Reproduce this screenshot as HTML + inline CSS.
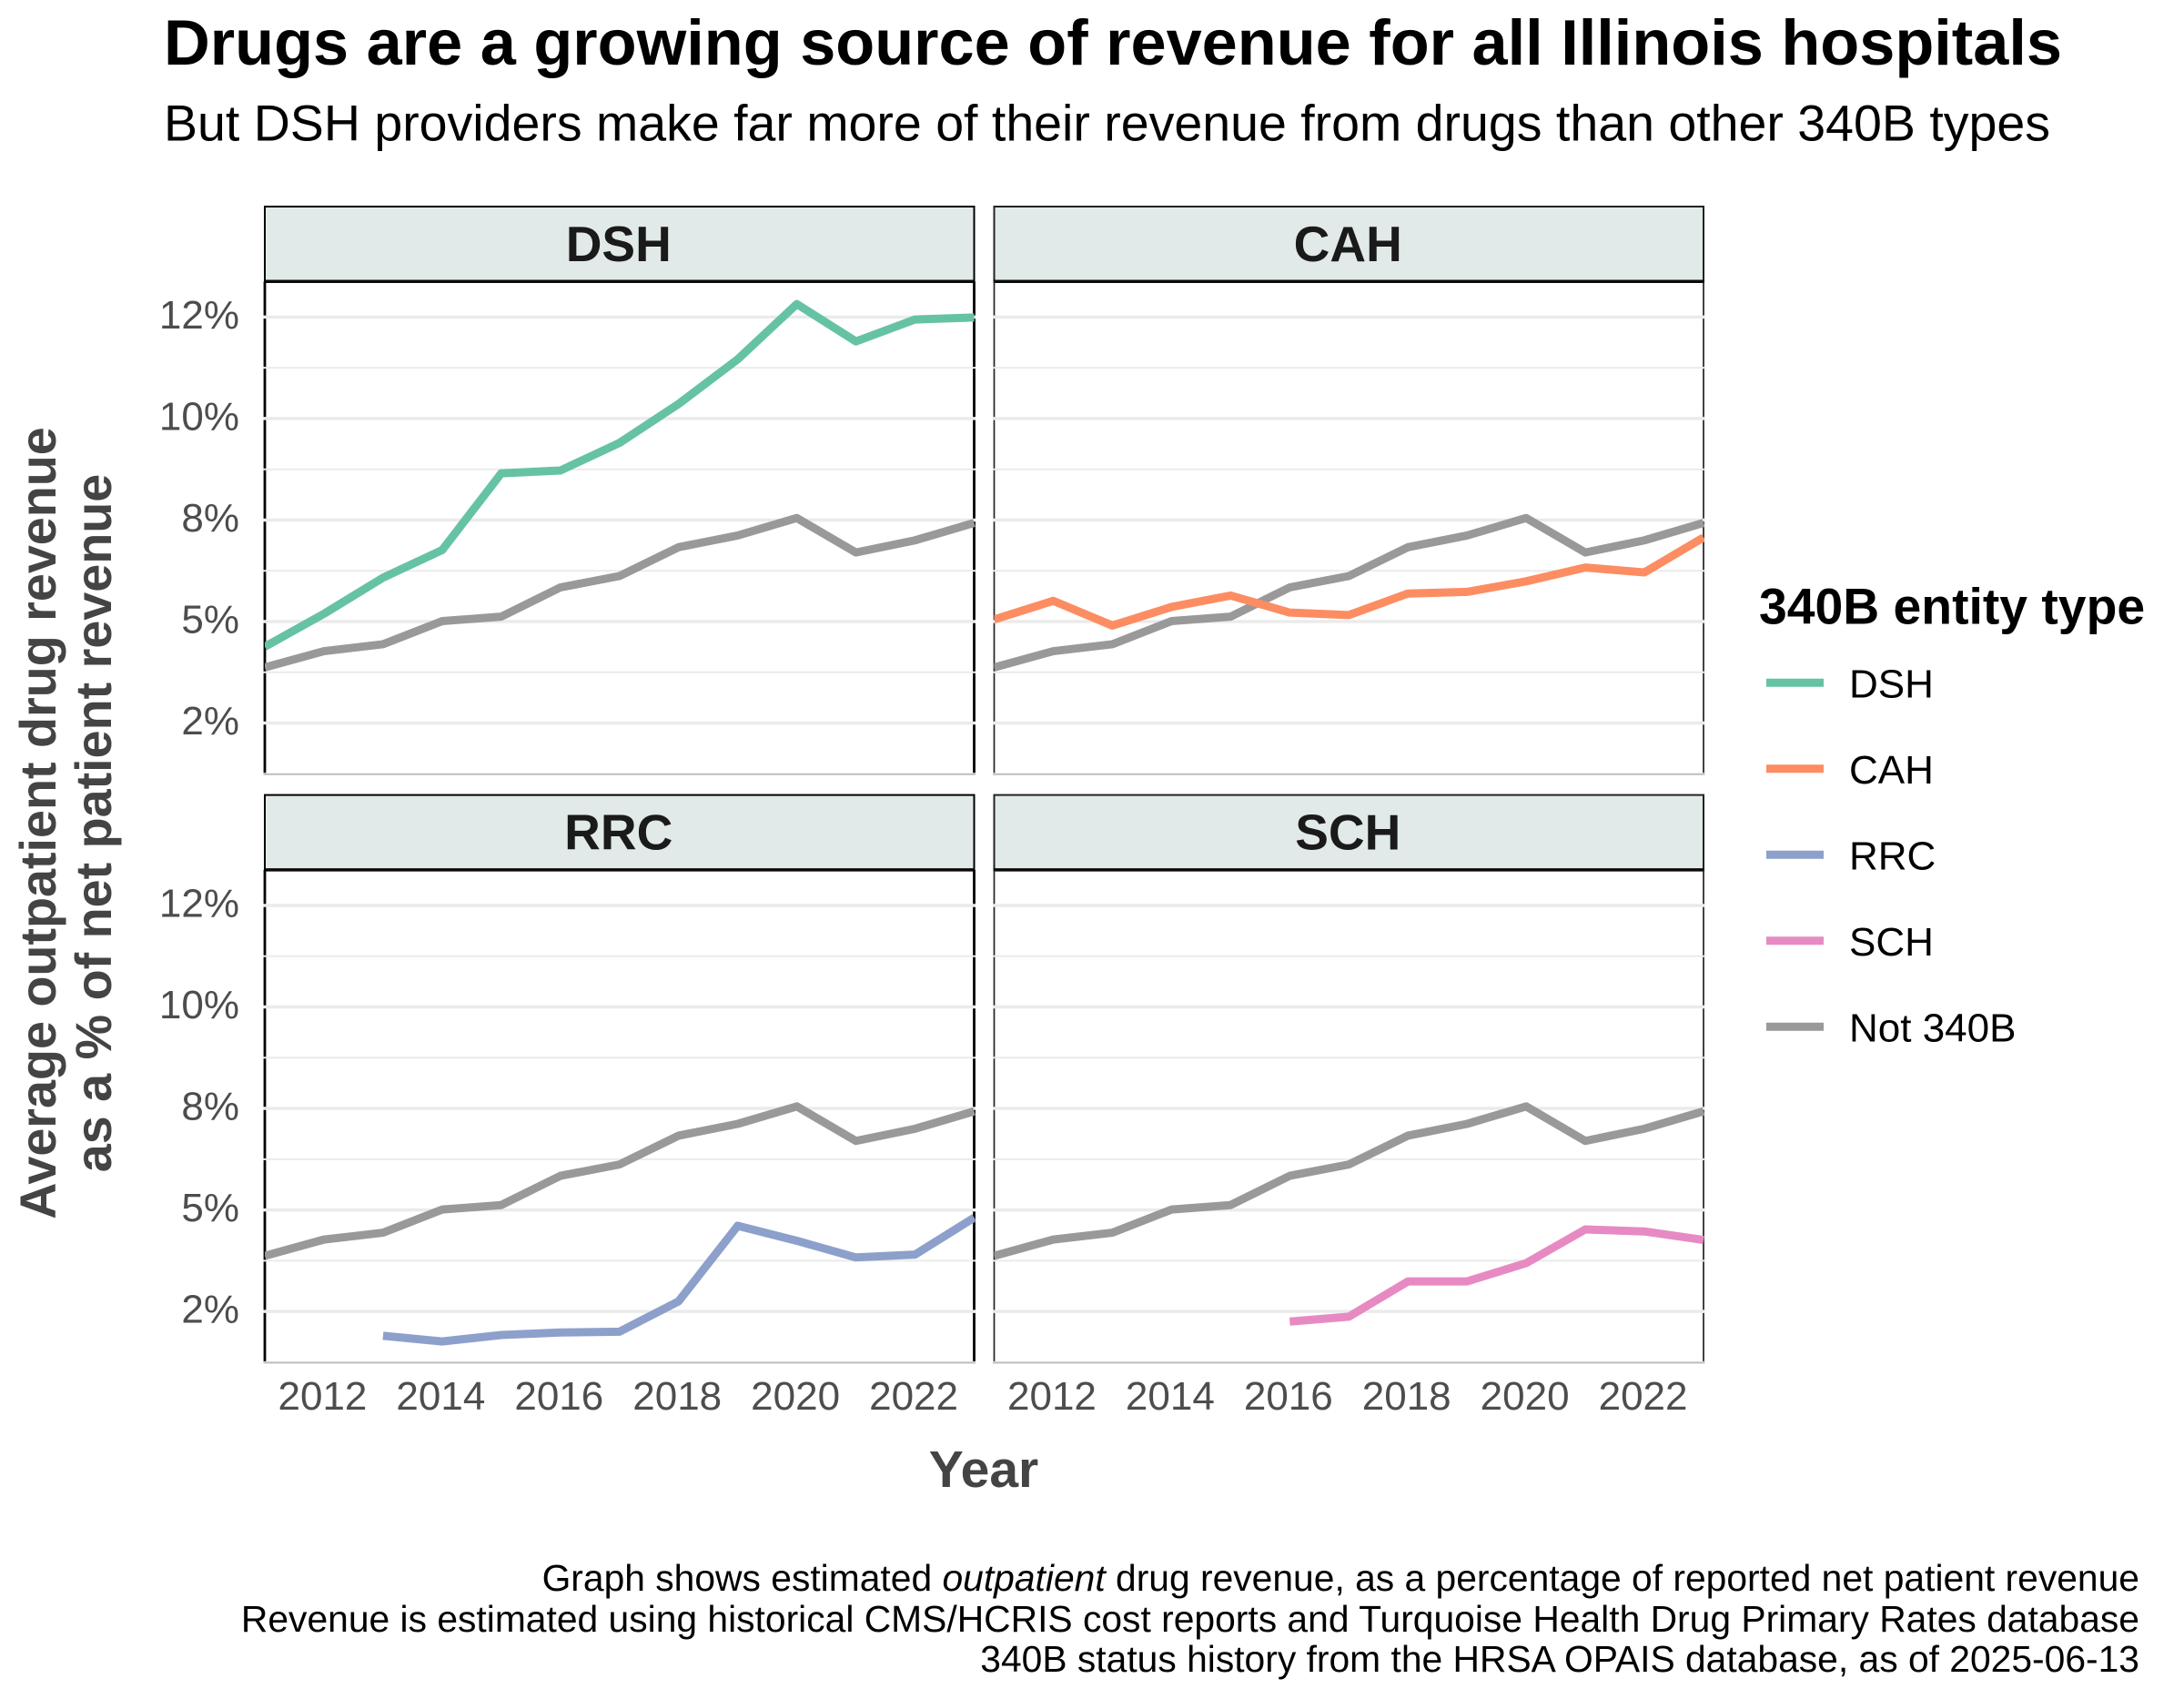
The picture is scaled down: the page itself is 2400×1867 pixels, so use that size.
<!DOCTYPE html>
<html lang="en">
<head>
<meta charset="utf-8">
<title>Drugs are a growing source of revenue for all Illinois hospitals</title>
<style>
html,body{margin:0;padding:0;background:#fff;}
svg{display:block;font-family:"Liberation Sans",Arial,sans-serif;}
</style>
</head>
<body>
<svg id="chart" xmlns="http://www.w3.org/2000/svg" width="2400" height="1867" viewBox="0 0 2400 1867">
  <rect x="0" y="0" width="2400" height="1867" fill="#fff"/>
  <text x="180" y="71" font-size="70.3" font-weight="700" fill="#000">Drugs are a growing source of revenue for all Illinois hospitals</text>
  <text x="180" y="154.5" font-size="55.5" fill="#000">But DSH providers make far more of their revenue from drugs than other 340B types</text>
  <g transform="translate(0,904.5) rotate(-90)" font-size="55.7" font-weight="700" fill="#444" text-anchor="middle">
    <text x="0" y="61">Average outpatient drug revenue</text>
    <text x="0" y="122">as a % of net patient revenue</text>
  </g>
  <text x="1081" y="1634" font-size="57" font-weight="700" fill="#444" text-anchor="middle">Year</text>
  <g id="panels"></g>
  <g id="legend">
    <text x="1933" y="685.5" font-size="55.3" font-weight="700" fill="#000">340B entity type</text>
  </g>
  <g font-size="40.8" fill="#000" text-anchor="end">
    <text x="2351" y="1748">Graph shows estimated <tspan font-style="italic">outpatient</tspan> drug revenue, as a percentage of reported net patient revenue</text>
    <text x="2351" y="1793">Revenue is estimated using historical CMS/HCRIS cost reports and Turquoise Health Drug Primary Rates database</text>
    <text x="2351" y="1837">340B status history from the HRSA OPAIS database, as of 2025-06-13</text>
  </g>
</svg>
<script>
const years = [2011,2012,2013,2014,2015,2016,2017,2018,2019,2020,2021,2022,2023];
const notValues = [3.87,4.27,4.44,5.01,5.12,5.84,6.12,6.83,7.12,7.55,6.70,7.00,7.43];
const dshValues = [4.38,5.19,6.08,6.76,8.65,8.72,9.40,10.36,11.46,12.82,11.90,12.44,12.49];
const cahValues = [5.05,5.51,4.90,5.36,5.64,5.22,5.16,5.69,5.73,5.99,6.33,6.21,7.07];
const rrcValues = [null,null,1.90,1.76,1.92,1.98,2.00,2.75,4.61,4.24,3.83,3.90,4.81];
const schValues = [null,null,null,null,null,2.25,2.37,3.24,3.24,3.69,4.52,4.47,4.26];
const panelNames = ['DSH','CAH','RRC','SCH'];
const legendNames = ['DSH','CAH','RRC','SCH','Not 340B'];
const xTickYears = [2012,2014,2016,2018,2020,2022];
const xTickLabels = ['2012','2014','2016','2018','2020','2022'];
const yMajorValues = [2.5,5,7.5,10,12.5];
const yMajorLabels = ['2%','5%','8%','10%','12%'];
const yMinorValues = [3.75,6.25,8.75,11.25];

const seriesByName = {DSH:dshValues,CAH:cahValues,RRC:rrcValues,SCH:schValues,'Not 340B':notValues};
const colorByName = {DSH:'#66c2a5',CAH:'#fc8d62',RRC:'#8da0cb',SCH:'#e78ac3','Not 340B':'#999999'};

const NS = 'http://www.w3.org/2000/svg';
const yearMin = 2011, yearMax = 2023;
const valueAtRef = 12.5, refTop = 348.4, pxPerUnit = 44.61;
const panelWidth = 779.5;
const colLeft = [291, 1092.5];
const rowShift = [0, 646.6];
const stripTop = 227, stripBottom = 309.3, panelBottom = 850.8;
const borderWidth = [2.8, 1.7];
const borderColor = ['#000', '#222'];

function xScale(col, year) {
  return colLeft[col] + (year - yearMin) / (yearMax - yearMin) * panelWidth;
}
function yScale(row, value) {
  return rowShift[row] + refTop + (valueAtRef - value) * pxPerUnit;
}
function make(tag, attrs, parent) {
  const el = document.createElementNS(NS, tag);
  for (const k in attrs) el.setAttribute(k, attrs[k]);
  parent.appendChild(el);
  return el;
}
function linePath(col, row, values) {
  let d = '';
  let pen = false;
  values.forEach(function (v, i) {
    if (v === null) { pen = false; return; }
    d += (pen ? 'L' : 'M') + xScale(col, years[i]).toFixed(2) + ' ' + yScale(row, v).toFixed(2);
    pen = true;
  });
  return d;
}

const panelsRoot = document.getElementById('panels');
const defs = make('defs', {}, panelsRoot);

panelNames.forEach(function (name, idx) {
  const col = idx % 2;
  const row = idx < 2 ? 0 : 1;
  const key = name.toLowerCase();
  const left = colLeft[col];
  const right = left + panelWidth;
  const shift = rowShift[row];

  const g = make('g', {}, panelsRoot);
  
  

  const clip = make('clipPath', {id: 'clip-' + key}, defs);
  make('rect', {x: left, y: shift + stripBottom, width: panelWidth + 1, height: panelBottom - stripBottom}, clip);

  const strip = make('rect', {x: left, y: shift + stripTop, width: panelWidth, height: stripBottom - stripTop, fill: '#e1eae8', stroke: borderColor[col], 'stroke-width': 2}, g);
  
  

  const stripRule = make('line', {x1: left - 1, x2: right + 1, y1: shift + stripBottom, y2: shift + stripBottom, stroke: '#0a0a0a', 'stroke-width': 3.5}, g);
  
  

  const stripLabel = make('text', {x: left + panelWidth / 2 - 1, y: shift + 287, 'font-size': 55, 'font-weight': 700, fill: '#1a1a1a', 'text-anchor': 'middle'}, g);
  
  
  stripLabel.textContent = name;

  const borderL = make('line', {x1: left, x2: left, y1: shift + stripBottom, y2: shift + panelBottom - 1.5, stroke: borderColor[col], 'stroke-width': borderWidth[col]}, g);
  
  

  const borderR = make('line', {x1: right, x2: right, y1: shift + stripBottom, y2: shift + panelBottom - 1.5, stroke: borderColor[col], 'stroke-width': borderWidth[col]}, g);
  
  

  yMinorValues.forEach(function (v) {
    const y = yScale(row, v);
    const grid = make('line', {x1: left - 1.5, x2: right + 1.5, y1: y, y2: y, stroke: '#ebebeb', 'stroke-width': 2}, g);
    
    
  });
  yMajorValues.forEach(function (v) {
    const y = yScale(row, v);
    const grid = make('line', {x1: left - 1.5, x2: right + 1.5, y1: y, y2: y, stroke: '#ebebeb', 'stroke-width': 3.5}, g);
    
    
  });

  const axisLine = make('line', {x1: left - 1.5, x2: right + 1.5, y1: shift + panelBottom, y2: shift + panelBottom, stroke: '#bdbdbd', 'stroke-width': 2}, g);
  
  

  const marks = make('g', {'clip-path': 'url(#clip-' + key + ')', fill: 'none', 'stroke-width': 9, 'stroke-linejoin': 'round'}, g);
  
  

  const baseLine = make('path', {d: linePath(col, row, notValues), stroke: colorByName['Not 340B']}, marks);
  
  

  const mainLine = make('path', {d: linePath(col, row, seriesByName[name]), stroke: colorByName[name]}, marks);
  
  

  if (col === 0) {
    yMajorValues.forEach(function (v, i) {
      const label = make('text', {x: 263, y: yScale(row, v) + 12.5, 'font-size': 44, fill: '#4d4d4d', 'text-anchor': 'end'}, g);
      
      
      label.textContent = yMajorLabels[i];
    });
  }
  if (row === 1) {
    xTickYears.forEach(function (yr, i) {
      const label = make('text', {x: xScale(col, yr) - 1.5, y: 1549, 'font-size': 44, fill: '#4d4d4d', 'text-anchor': 'middle'}, g);
      
      
      label.textContent = xTickLabels[i];
    });
  }
});

const legendRoot = document.getElementById('legend');
legendNames.forEach(function (name, i) {
  const y = 750.3 + i * 94.5;
  const entry = make('g', {}, legendRoot);
  
  
  const key = make('line', {x1: 1941, x2: 2004, y1: y, y2: y, stroke: colorByName[name], 'stroke-width': 9}, entry);
  
  
  const text = make('text', {x: 2032, y: y + 16, 'font-size': 44, fill: '#000'}, entry);
  
  
  text.textContent = name;
});
</script>
</body>
</html>
